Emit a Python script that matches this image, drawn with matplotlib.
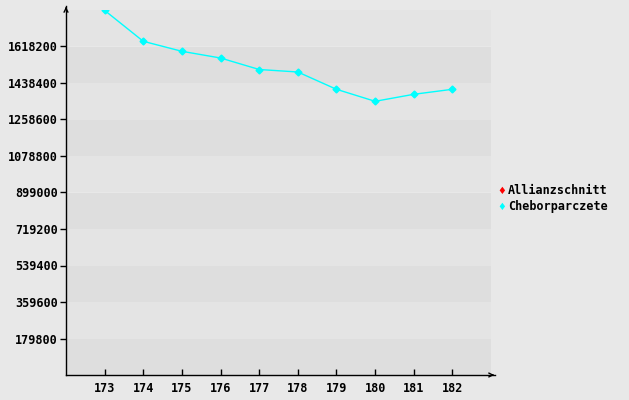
import matplotlib
matplotlib.use("Agg")
import matplotlib.pyplot as plt
from matplotlib.lines import Line2D

x_values = [173, 174, 175, 176, 177, 178, 179, 180, 181, 182]
cheborparczete = [1796000, 1643800, 1594500, 1561500, 1504900, 1492600, 1407400, 1348200, 1382700, 1407400]
series_names = ["Allianzschnitt", "Cheborparczete"]
series_colors = ["#ff0000", "#00ffff"]
y_ticks = [179800, 359600, 539400, 719200, 899000, 1078800, 1258600, 1438400, 1618200]

W, H = 629, 400
fig = plt.figure(figsize=(W / 100, H / 100), dpi=100, facecolor="#e8e8e8")
left, right, bottom, top = 66, 491, 375, 10
ax = fig.add_axes([left / W, 1 - bottom / H, (right - left) / W, (bottom - top) / H])
ax.set_facecolor("#e8e8e8")
ymax = 1798000
ax.set_xlim(172, 183)
ax.set_ylim(0, ymax)

step = 179800
for i in range(10):
    c = "#dedede" if i % 2 == 0 else "#e4e4e4"
    ax.axhspan(i * step, (i + 1) * step, color=c, lw=0, zorder=0)

ax.plot(x_values, cheborparczete, color=series_colors[1], lw=1, marker="D", ms=3.5, zorder=3)

for s in ["top", "right", "left", "bottom"]:
    ax.spines[s].set_visible(False)

# axes with arrows
fig.add_artist(Line2D([left / W, left / W], [1 - bottom / H, 1 - 6 / H], color="black", lw=1))
fig.add_artist(Line2D([left / W, 495 / W], [1 - bottom / H, 1 - bottom / H], color="black", lw=1))
ax.annotate("", xy=(left / W, 1 - 4 / H), xytext=(left / W, 1 - 12 / H), xycoords="figure fraction",
            arrowprops=dict(arrowstyle="->", color="black", lw=1, mutation_scale=7))
ax.annotate("", xy=(497 / W, 1 - bottom / H), xytext=(489 / W, 1 - bottom / H), xycoords="figure fraction",
            arrowprops=dict(arrowstyle="->", color="black", lw=1, mutation_scale=7))

font = dict(family="DejaVu Sans Mono", weight="bold", size=8.5)
ax.set_xticks(x_values)
ax.set_xticklabels([str(v) for v in x_values], **font)
ax.set_yticks(y_ticks)
ax.set_yticklabels([str(v) for v in y_ticks], **font)
ax.tick_params(axis="y", length=4, width=1, color="black", pad=2)
ax.tick_params(axis="x", direction="in", length=4, width=1, color="black", pad=5)

for i, (name, col) in enumerate(zip(series_names, series_colors)):
    yy = 1 - (191 + 16 * i) / H
    fig.text(502 / W, yy, "\u2666", color=col, fontsize=7, ha="center", va="center")
    fig.text(508 / W, yy, name, color="black", ha="left", va="center", **font)

fig.savefig("out.png", dpi=100, facecolor=fig.get_facecolor())
